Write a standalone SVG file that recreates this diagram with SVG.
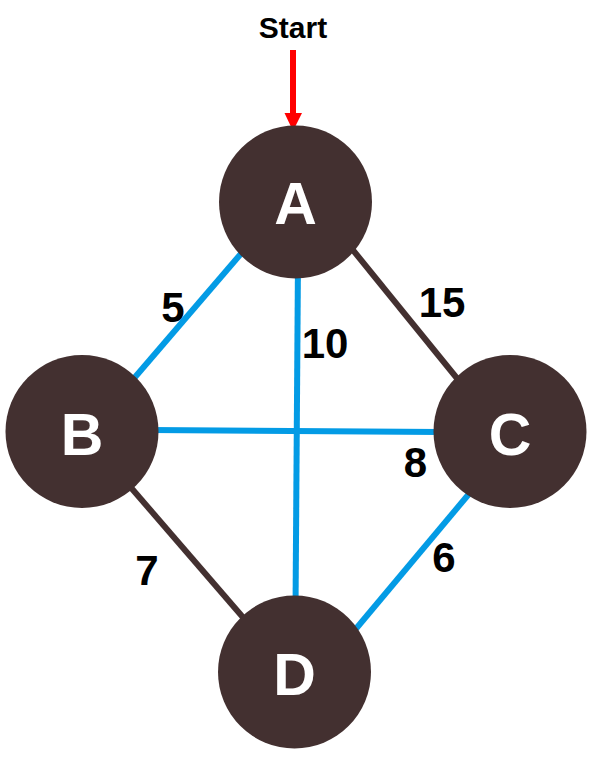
<svg xmlns="http://www.w3.org/2000/svg" width="593" height="761" viewBox="0 0 593 761">
<style>
.edge-blue{stroke:#039BE5;stroke-width:6;fill:none}
.edge-brown{stroke:#433030;stroke-width:6;fill:none}
.node{fill:#433030}
.nlabel{font-family:"Liberation Sans",Arial,sans-serif;font-weight:bold;font-size:59px;fill:#FFFFFF;text-anchor:middle}
.elabel{font-family:"Liberation Sans",Arial,sans-serif;font-weight:bold;font-size:42px;fill:#000000;text-anchor:middle}
.title{font-family:"Liberation Sans",Arial,sans-serif;font-weight:bold;font-size:30px;fill:#000000;text-anchor:middle}
</style>
<rect width="593" height="761" fill="#FFFFFF"/>
<g id="connectors">
<line class="edge-blue" x1="245" y1="249" x2="130" y2="383"/>
<line class="edge-brown" x1="348" y1="244" x2="460" y2="382"/>
<line class="edge-blue" x1="298" y1="260" x2="295.5" y2="610"/>
<line class="edge-blue" x1="150" y1="430" x2="440" y2="432"/>
<line class="edge-brown" x1="127" y1="483" x2="247" y2="622"/>
<line class="edge-blue" x1="471" y1="491.5" x2="352" y2="633.5"/>
<line stroke="#FF0000" stroke-width="6" x1="293" y1="50" x2="293" y2="116"/>
<polygon fill="#FF0000" points="284.5,113 302,113 293,131"/>
</g>
<g id="edge-labels">
<text class="elabel" x="173" y="322">5</text>
<text class="elabel" x="325" y="358">10</text>
<text class="elabel" x="442" y="317">15</text>
<text class="elabel" x="415.5" y="477">8</text>
<text class="elabel" x="147" y="585">7</text>
<text class="elabel" x="444" y="572">6</text>
</g>
<text id="start-label" class="title" x="293" y="38">Start</text>
<g id="node-A"><circle class="node" cx="295.5" cy="202" r="76.5"/><text class="nlabel" x="295.5" y="224">A</text></g>
<g id="node-B"><circle class="node" cx="82" cy="431.5" r="76.5"/><text class="nlabel" x="82" y="455">B</text></g>
<g id="node-C"><circle class="node" cx="510" cy="431.5" r="76.5"/><text class="nlabel" x="510" y="455">C</text></g>
<g id="node-D"><circle class="node" cx="294.5" cy="672" r="76.5"/><text class="nlabel" x="294.5" y="695">D</text></g>
</svg>
